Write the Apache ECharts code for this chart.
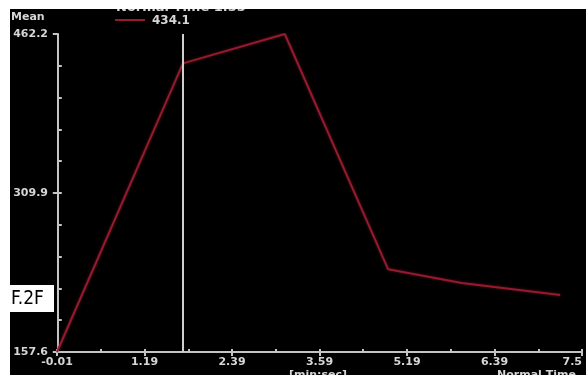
<!DOCTYPE html>
<html>
<head>
<meta charset="utf-8">
<script src="https://cdn.jsdelivr.net/npm/echarts@6/dist/echarts.min.js"></script>
<style>
  html, body { margin: 0; padding: 0; background: #fff; }
  #chart { width: 586px; height: 375px; }
</style>
</head>
<body>
<div id="chart"></div>
<script>
// Mean response over normal time
const timeValues = [-0.01, 1.55, 2.81, 4.09, 5.00, 6.22];
const meanValues = [157.6, 434.1, 462.2, 236.8, 223.7, 212.2];

// Axis extents and tick labels
const xMin = -0.01;
const xMax = 6.49;
const xTickLabels = ['-0.01', '1.19', '2.39', '3.59', '5.19', '6.39', '7.5'];
const yMin = 157.6;
const yMax = 462.2;
const yTickLabels = ['157.6', '309.9', '462.2'];

// Cursor readout
const cursorTime = 1.55;
const cursorValue = 434.1;

const xStep = (xMax - xMin) / (xTickLabels.length - 1);
const xMajor = xTickLabels.map((_, i) => xMin + i * xStep);
const xAll = [];
for (let i = 0; i < (xTickLabels.length - 1) * 2 + 1; i++) xAll.push(xMin + i * xStep / 2);
const yStep = (yMax - yMin) / 10;
const yAll = [];
for (let i = 0; i <= 10; i++) yAll.push(yMin + i * yStep);
const yMajor = yTickLabels.map(Number);

const txt = '#d6d6d6';
const axisCol = '#c4c4c4';
const font = 'DejaVu Sans';
const lineCol = '#951a2e';

const chart = echarts.init(document.getElementById('chart'));
chart.setOption({
  backgroundColor: '#000',
  animation: false,
  grid: { left: 57, right: 4, top: 34, bottom: 23 },
  xAxis: [
    {
      type: 'value', min: xMin, max: xMax,
      axisLine: { lineStyle: { color: axisCol, width: 2 } },
      axisTick: { show: true, customValues: xMajor, length: 4, lineStyle: { color: axisCol, width: 2 } },
      axisLabel: {
        customValues: xMajor, color: txt, fontSize: 11, fontWeight: 'bold', fontFamily: font, margin: 5,
        alignMaxLabel: 'right',
        formatter: v => {
          const i = xMajor.findIndex(t => Math.abs(t - v) < 1e-6);
          return i >= 0 ? xTickLabels[i] : '';
        }
      },
      splitLine: { show: false }
    },
    {
      type: 'value', min: xMin, max: xMax, position: 'bottom',
      axisLine: { show: false },
      axisTick: { show: true, inside: true, customValues: xAll, length: 3, lineStyle: { color: axisCol, width: 2 } },
      axisLabel: { show: false },
      splitLine: { show: false }
    }
  ],
  yAxis: [
    {
      type: 'value', min: yMin, max: yMax,
      axisLine: { show: true, lineStyle: { color: axisCol, width: 2 } },
      axisTick: { show: true, inside: true, customValues: yAll, length: 4, lineStyle: { color: axisCol, width: 2 } },
      axisLabel: {
        customValues: yMajor, color: txt, fontSize: 11, fontWeight: 'bold', fontFamily: font, margin: 9,
        formatter: v => {
          const i = yMajor.findIndex(t => Math.abs(t - v) < 1e-6);
          return i >= 0 ? yTickLabels[i] : '';
        }
      },
      splitLine: { show: false }
    },
    {
      type: 'value', min: yMin, max: yMax, position: 'left',
      axisLine: { show: false },
      axisTick: { show: true, customValues: yMajor, length: 5, lineStyle: { color: axisCol, width: 2 } },
      axisLabel: { show: false },
      splitLine: { show: false }
    }
  ],
  series: [
    {
      type: 'line',
      xAxisIndex: 0, yAxisIndex: 0,
      data: timeValues.map((t, i) => [t, meanValues[i]]),
      symbol: 'none',
      lineStyle: { color: lineCol, width: 2, shadowColor: 'rgba(150,30,50,0.6)', shadowBlur: 3 },
      markLine: {
        silent: true, symbol: 'none', label: { show: false },
        lineStyle: { color: '#cfcfcf', width: 2, type: 'solid' },
        data: [{ xAxis: cursorTime }]
      },
      z: 3
    }
  ],
  graphic: [
    { type: 'text', left: 116, top: 1, z: 10,
      style: { text: 'Normal Time ' + cursorTime.toFixed(2), fill: txt, font: 'bold 13px "DejaVu Sans"' } },
    { type: 'line', z: 10, shape: { x1: 115, y1: 20, x2: 145, y2: 20 }, style: { stroke: lineCol, lineWidth: 2 } },
    { type: 'text', left: 152, top: 15, z: 10,
      style: { text: cursorValue.toFixed(1), fill: txt, font: 'bold 12px "DejaVu Sans"' } },
    { type: 'text', left: 11, top: 12, z: 10,
      style: { text: 'Mean', fill: txt, font: 'bold 11px "DejaVu Sans"' } },
    { type: 'text', left: 289, top: 370, z: 10,
      style: { text: '[min:sec]', fill: txt, font: 'bold 11px "DejaVu Sans"' } },
    { type: 'text', left: 497, top: 370, z: 10,
      style: { text: 'Normal Time', fill: txt, font: 'bold 11px "DejaVu Sans"' } },
    // white frame strips
    { type: 'rect', z: 20, shape: { x: 0, y: 0, width: 586, height: 9 }, style: { fill: '#fff' } },
    { type: 'rect', z: 20, shape: { x: 0, y: 0, width: 10, height: 375 }, style: { fill: '#fff' } },
    // panel tag
    { type: 'rect', z: 21, shape: { x: 10, y: 285, width: 44, height: 27 }, style: { fill: '#fff' } },
    { type: 'text', z: 22, left: 11, top: 290,
      style: { text: 'F.2F', fill: '#000', font: '19px "DejaVu Sans Condensed", "DejaVu Sans"' } }
  ]
});
</script>
</body>
</html>
